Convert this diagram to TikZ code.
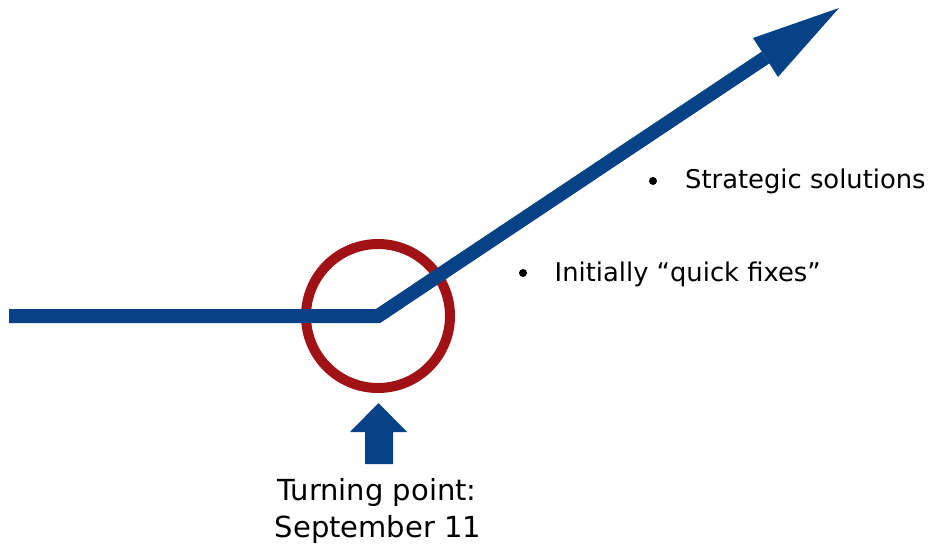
\documentclass[tikz,border=0pt]{standalone}
\usepackage{fontspec}
\setmainfont{DejaVu Sans}
\begin{document}
\begin{tikzpicture}[x=1pt,y=-1pt,
  trendline/.style={draw=trendblue,line width=14pt,line join=miter,line cap=butt},
  ring/.style={draw=ringred,line width=10pt},
  headfill/.style={fill=trendblue,draw=none},
  dot/.style={circle,fill=black,inner sep=0pt,minimum size=8pt},
  bullettext/.style={anchor=base west,inner sep=0pt,font=\fontsize{25.8}{31}\selectfont},
  captiontext/.style={anchor=base,inner sep=0pt,font=\fontsize{29}{37}\selectfont}]
\definecolor{trendblue}{RGB}{8,66,134}
\definecolor{ringred}{RGB}{160,18,22}
\useasboundingbox (0,0) rectangle (933,555);

% key points of the trend line
\coordinate (start) at (9,316);
\coordinate (bend) at (378,316);
\coordinate (headbase) at (765.5,57.5);
\coordinate (tip) at (839,8);
\coordinate (headleft) at (753,38);
\coordinate (headright) at (778,77);

% the turning point ring
\node[ring,circle,minimum size=144pt,inner sep=0pt] (turn) at (bend) {};

% trend line with its arrowhead
\draw[trendline] (start) -- (bend) -- (headbase);
\fill[headfill] (headleft) -- (tip) -- (headright) -- cycle;

% upward block arrow under the ring
\fill[headfill] (365,464) -- (365,432) -- (350,432) -- (378.5,403)
  -- (407,432) -- (393,432) -- (393,464) -- cycle;

% bullet points
\node[dot] (dota) at (653,181) {};
\node[bullettext] (strategic) at (685,188) {Strategic solutions};
\node[dot] (dotb) at (523,273) {};
\node[bullettext] (quick) at (554.5,281) {Initially “quick fixes”};

% caption
\node[captiontext] (caption1) at (377,500) {Turning point:};
\node[captiontext] (caption2) at (378,537) {September 11};
\end{tikzpicture}
\end{document}
